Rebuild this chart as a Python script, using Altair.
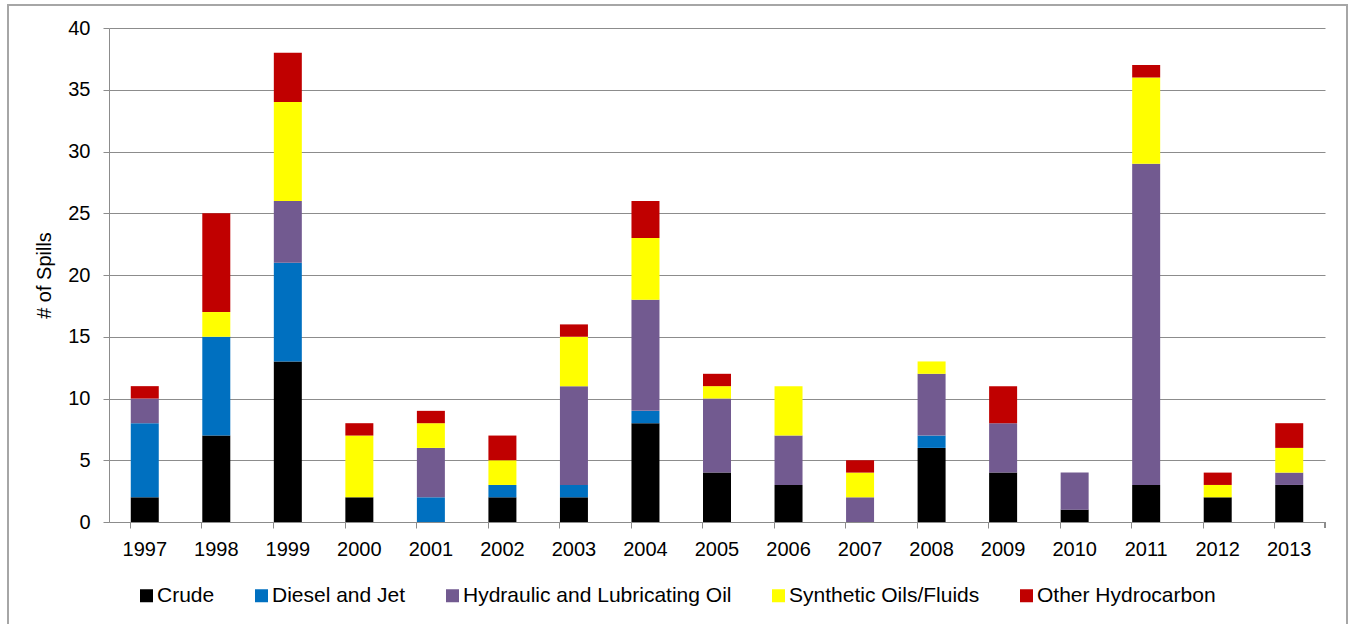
import altair as alt
import pandas as pd

# Oil spill counts per year, split by product type
years = [str(y) for y in range(1997, 2014)]
crude = [2, 7, 13, 2, 0, 2, 2, 8, 4, 3, 0, 6, 4, 1, 3, 2, 3]
diesel_jet = [6, 8, 8, 0, 2, 1, 1, 1, 0, 0, 0, 1, 0, 0, 0, 0, 0]
hydraulic = [2, 0, 5, 0, 4, 0, 8, 9, 6, 4, 2, 5, 4, 3, 26, 0, 1]
synthetic = [0, 2, 8, 5, 2, 2, 4, 5, 1, 4, 2, 1, 0, 0, 7, 1, 2]
other = [1, 8, 4, 1, 1, 2, 1, 3, 1, 0, 1, 0, 3, 0, 1, 1, 2]

categories = [
    "Crude",
    "Diesel and Jet",
    "Hydraulic and Lubricating Oil",
    "Synthetic Oils/Fluids",
    "Other Hydrocarbon",
]
colors = ["#000000", "#0070C0", "#725A90", "#FFFF00", "#C00000"]
series = [crude, diesel_jet, hydraulic, synthetic, other]

rows = []
for idx, (cat, vals) in enumerate(zip(categories, series)):
    for yr, v in zip(years, vals):
        if v > 0:
            rows.append({"Year": yr, "Type": cat, "Spills": v, "idx": idx})
df = pd.DataFrame(rows)

W, H = 1216, 494
FONT = "Liberation Sans"

bars = alt.Chart(df).mark_bar(size=28).encode(
    x=alt.X(
        "Year:N",
        sort=years,
        scale=alt.Scale(domain=years, paddingInner=0.6, paddingOuter=0.3),
        axis=alt.Axis(
            title=None,
            labelAngle=0,
            bandPosition=0,
            labelPadding=11,
            tickSize=6,
            grid=False,
        ),
    ),
    y=alt.Y(
        "Spills:Q",
        stack="zero",
        scale=alt.Scale(domain=[0, 40]),
        axis=alt.Axis(
            title="# of Spills",
            values=list(range(0, 41, 5)),
            tickSize=6,
            labelPadding=13,
            titlePadding=13,
            titleFontSize=20,
            titleFontWeight="normal",
        ),
    ),
    color=alt.Color(
        "Type:N",
        scale=alt.Scale(domain=categories, range=colors),
        legend=alt.Legend(
            title=None,
            orient="none",
            direction="horizontal",
            legendX=27,
            legendY=557,
            symbolType="square",
            symbolSize=169,
            symbolStrokeWidth=0,
            symbolOpacity=1,
            labelFontSize=21,
            labelFont=FONT,
            labelColor="#000000",
            labelLimit=600,
            labelOffset=0,
            columnPadding=36,
        ),
    ),
    order=alt.Order("idx:Q", sort="ascending"),
)

# closing tick on the right end of the category axis
end_tick = alt.Chart(df).mark_rule(color="#8c8c8c", strokeWidth=1).encode(
    x=alt.value(W), y=alt.value(H), y2=alt.value(H + 6)
)

# light frame around the whole figure
frame = alt.Chart(df).mark_rect(filled=False, stroke="#a6a6a6", strokeWidth=1.5).encode(
    x=alt.value(-101), x2=alt.value(1238), y=alt.value(-23), y2=alt.value(640)
)

chart = (
    alt.layer(bars, end_tick, frame)
    .properties(
        width=W,
        height=H,
        autosize=alt.AutoSizeParams(type="none"),
        padding={"left": 109, "top": 28, "right": 23, "bottom": 102},
        background="#ffffff",
    )
    .configure_view(stroke=None)
    .configure_axis(
        labelFont=FONT,
        titleFont=FONT,
        labelFontSize=20,
        labelColor="#000000",
        titleColor="#000000",
        domainColor="#8c8c8c",
        tickColor="#8c8c8c",
        gridColor="#8c8c8c",
        gridWidth=1,
        domainWidth=1,
    )
)

chart.save("out.html", embed_options={"renderer": "svg", "actions": False})
